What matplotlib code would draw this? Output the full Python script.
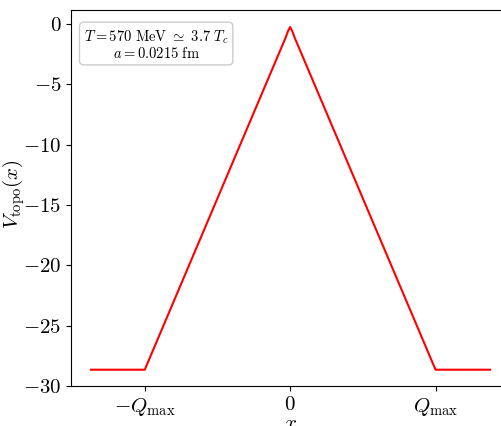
import numpy as np
import matplotlib.pyplot as plt

plt.rcParams['font.family'] = 'serif'
plt.rcParams['font.serif'] = ['cmr10']
plt.rcParams['mathtext.fontset'] = 'cm'
plt.rcParams['axes.unicode_minus'] = False

# x in units of Q_max, V_topo values
x = [-1.37, -1.0, -0.03, -0.015, 0.0, 0.015, 0.03, 1.0, 1.375]
v = [-28.65, -28.65, -1.1, -0.6, -0.25, -0.6, -1.1, -28.65, -28.65]

yticks = [0, -5, -10, -15, -20, -25, -30]
xticks = [-1, 0, 1]
xticklabels = [r'$-Q_{\rm max}$', r'$0$', r'$Q_{\rm max}$']

fig = plt.figure(figsize=(5.01, 4.26), dpi=100)
ax = fig.add_axes([71/501, 1-386/426, 439/501, 376/426])

ax.plot(x, v, color='red', lw=1.5)
ax.margins(x=0.05)
ax.set_ylim(-30, 1.16)

ax.set_yticks(yticks)
ax.set_yticklabels([r'$%d$' % t if t == 0 else r'$-%d$' % -t for t in yticks], fontsize=15)
ax.set_xticks(xticks)
ax.set_xticklabels(xticklabels, fontsize=15)
ax.set_xlabel(r'$x$', fontsize=15)
ax.set_ylabel(r'$V_{\rm topo}(x)$', fontsize=15)
ax.yaxis.set_label_coords(-0.1, 0.51)
ax.xaxis.set_label_coords(0.5, -0.078)

ax.text(0.194, 0.952, r'$T=570\ {\rm MeV}\ \simeq\ 3.7\ T_c$' + '\n' + r'$a=0.0215\ {\rm fm}$',
        transform=ax.transAxes, ha='center', va='top', fontsize=10.5, linespacing=1.0,
        bbox=dict(boxstyle='round,pad=0.3', facecolor='white', edgecolor='0.8'))

fig.savefig('out.png', dpi=100)
